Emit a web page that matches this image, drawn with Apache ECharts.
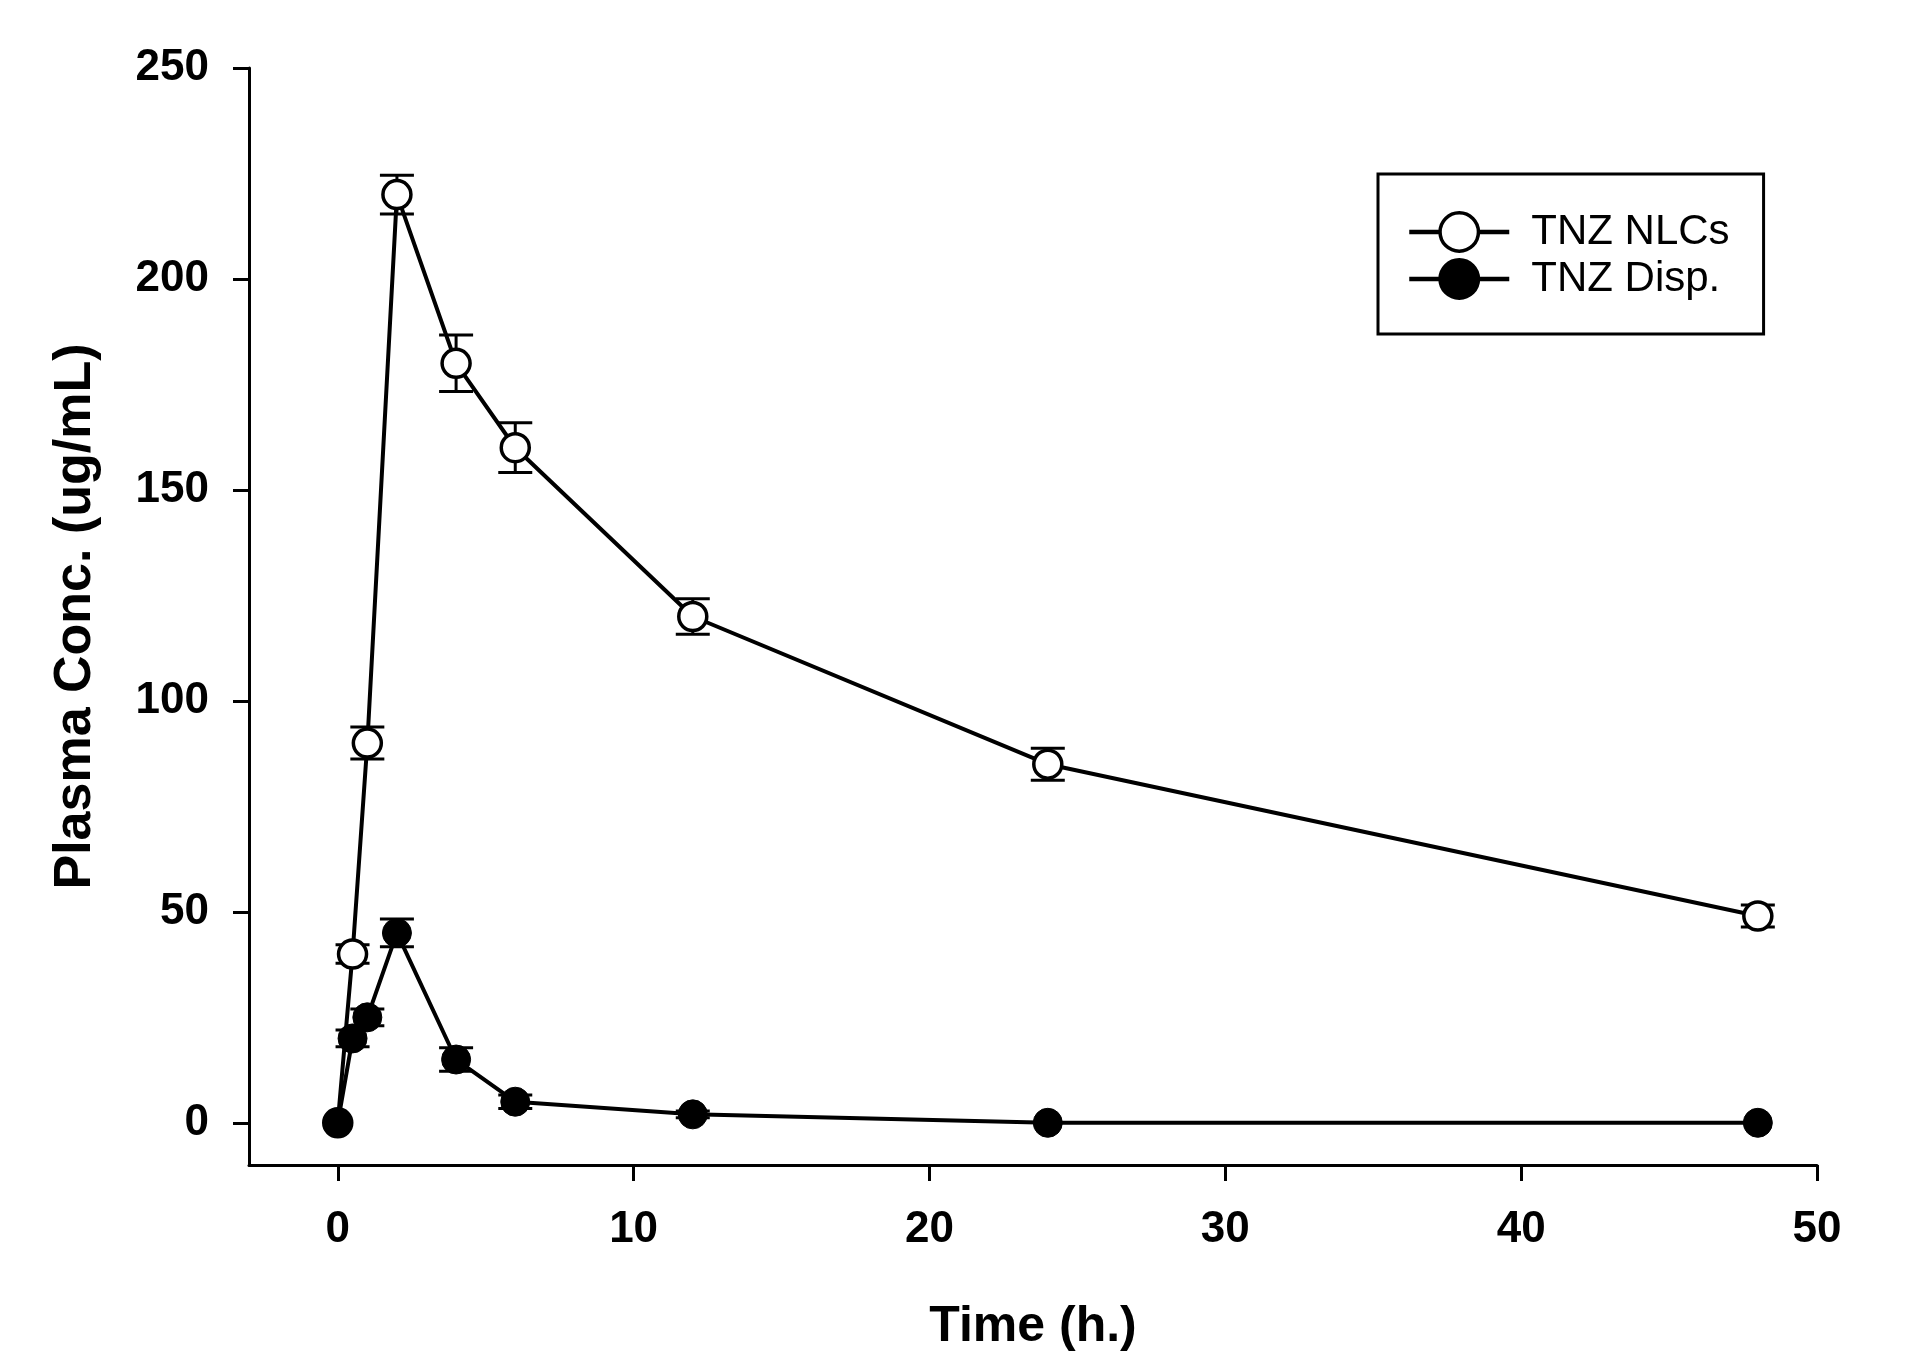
<!DOCTYPE html>
<html>
<head>
<meta charset="utf-8">
<script src="https://cdn.jsdelivr.net/npm/echarts@6/dist/echarts.min.js"></script>
<style>
  html, body { margin: 0; padding: 0; background: #fff; }
  #chart { width: 1913px; height: 1365px; }
</style>
</head>
<body>
<div id="chart"></div>
<script>
// sampling times (h)
var timePoints = [0, 0.5, 1, 2, 4, 6, 12, 24, 48];
// TNZ NLCs mean and error
var nlcMean = [0, 40, 90, 220, 180, 160, 120, 85, 49];
var nlcErr = [0, 2.2, 3.8, 4.6, 6.7, 5.9, 4.2, 3.8, 2.6];
// TNZ Disp. mean and error
var dispMean = [0, 20, 25, 45, 15, 5, 2, 0, 0];
var dispErr = [0, 2, 2, 3.3, 2.8, 1.6, 0.8, 0, 0];
// tick labels
var xTicks = [0, 10, 20, 30, 40, 50];
var yTicks = [0, 50, 100, 150, 200, 250];

var font = '"Liberation Sans", Arial, Helvetica, sans-serif';

function pairs(ys) {
    var out = [];
    for (var i = 0; i < timePoints.length; i++) {
        out.push([timePoints[i], ys[i]]);
    }
    return out;
}

function errData(ys, es) {
    var out = [];
    for (var i = 0; i < timePoints.length; i++) {
        if (es[i] > 0) out.push([timePoints[i], ys[i] - es[i], ys[i] + es[i]]);
    }
    return out;
}

function renderErr(params, api) {
    var x = api.value(0);
    var lo = api.coord([x, api.value(1)]);
    var hi = api.coord([x, api.value(2)]);
    var half = 17;
    var style = { stroke: '#000', lineWidth: 3 };
    return {
        type: 'group',
        children: [
            { type: 'line', shape: { x1: lo[0], y1: lo[1], x2: hi[0], y2: hi[1] }, style: style },
            { type: 'line', shape: { x1: hi[0] - half, y1: hi[1], x2: hi[0] + half, y2: hi[1] }, style: style },
            { type: 'line', shape: { x1: lo[0] - half, y1: lo[1], x2: lo[0] + half, y2: lo[1] }, style: style }
        ]
    };
}

var axisLineStyle = { color: '#000', width: 3 };
var labelStyle = { color: '#000', fontFamily: font, fontWeight: 'bold', fontSize: 44 };

var chart = echarts.init(document.getElementById('chart'));
chart.setOption({
    animation: false,
    backgroundColor: '#fff',
    grid: { left: 249, top: 68, right: 96, bottom: 200 },
    legend: {
        left: 1378,
        top: 174,
        orient: 'vertical',
        padding: [37, 34, 34, 29],
        itemWidth: 100,
        itemHeight: 48,
        itemGap: 5,
        borderColor: '#000',
        borderWidth: 3,
        borderRadius: 0,
        data: ['TNZ NLCs', 'TNZ Disp.'],
        lineStyle: { width: 4.5, color: '#000' },
        itemStyle: { borderWidth: 3.5, borderColor: '#000' },
        textStyle: { color: '#000', fontFamily: font, fontSize: 42, padding: [0, 0, 0, 17] }
    },
    xAxis: {
        type: 'value',
        min: -3,
        max: 50,
        name: 'Time (h.)',
        nameLocation: 'middle',
        nameGap: 137,
        nameTextStyle: { color: '#000', fontFamily: font, fontWeight: 'bold', fontSize: 50 },
        axisLine: { show: true, onZero: false, lineStyle: axisLineStyle },
        axisTick: { show: true, length: 16, lineStyle: axisLineStyle, customValues: xTicks },
        axisLabel: Object.assign({ margin: 43, customValues: xTicks }, labelStyle),
        splitLine: { show: false }
    },
    yAxis: {
        type: 'value',
        min: -10,
        max: 250,
        name: 'Plasma Conc. (ug/mL)',
        nameLocation: 'middle',
        nameGap: 147,
        nameTextStyle: { color: '#000', fontFamily: font, fontWeight: 'bold', fontSize: 52 },
        axisLine: { show: true, onZero: false, lineStyle: axisLineStyle },
        axisTick: { show: true, length: 16, lineStyle: axisLineStyle, customValues: yTicks },
        axisLabel: Object.assign({ margin: 40, customValues: yTicks }, labelStyle),
        splitLine: { show: false }
    },
    series: [
        {
            type: 'custom',
            name: 'nlcErr',
            z: 1,
            renderItem: renderErr,
            data: errData(nlcMean, nlcErr),
            encode: { x: 0, y: [1, 2] },
            silent: true
        },
        {
            type: 'custom',
            name: 'dispErr',
            z: 1,
            renderItem: renderErr,
            data: errData(dispMean, dispErr),
            encode: { x: 0, y: [1, 2] },
            silent: true
        },
        {
            type: 'line',
            name: 'TNZ NLCs',
            z: 3,
            data: pairs(nlcMean),
            symbol: 'circle',
            symbolSize: 28,
            lineStyle: { color: '#000', width: 4 },
            itemStyle: { color: '#fff', borderColor: '#000', borderWidth: 3.5 }
        },
        {
            type: 'line',
            name: 'TNZ Disp.',
            z: 4,
            data: pairs(dispMean),
            symbol: 'circle',
            symbolSize: 29,
            lineStyle: { color: '#000', width: 4 },
            itemStyle: { color: '#000', borderColor: '#000', borderWidth: 1 }
        }
    ]
});
</script>
</body>
</html>
